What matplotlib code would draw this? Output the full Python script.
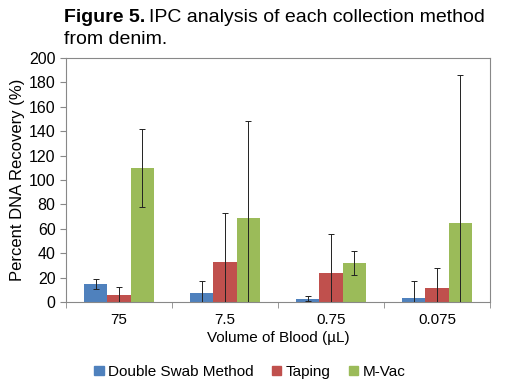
""" IPC analysis bar chart - recovery by collection method """

import numpy as np
import matplotlib.pyplot as plt
from matplotlib.patches import Patch

plt.rcParams['font.family'] = ['Liberation Sans', 'DejaVu Sans']

volumes = ["75", "7.5", "0.75", "0.075"]
methods = ["Double Swab Method", "Taping", "M-Vac"]
colors = ["#4F81BD", "#C0504D", "#9BBB59"]

swab = [15, 7, 2.7, 3.6]
swab_err = [4, 10, 2, 14]
taping = [5.5, 33, 24, 11.6]
taping_err = [6.5, 40, 32, 16]
mvac = [110, 68.5, 32, 65]
mvac_err = [32, 80, 10, 121]

values = [swab, taping, mvac]
errors = [swab_err, taping_err, mvac_err]

fig = plt.figure(figsize=(5.12, 3.84), dpi=100)
ax = fig.add_axes([66/512, 1 - 302/384, 424/512, 244/384])

x = np.arange(len(volumes))
w = 0.22
for i, (vals, errs) in enumerate(zip(values, errors)):
    ax.bar(x + (i - 1) * w, vals, w, color=colors[i], zorder=2)
    ax.errorbar(x + (i - 1) * w, vals, yerr=errs, fmt='none', ecolor='#222222',
                elinewidth=0.7, capsize=2, capthick=0.7, zorder=3)

ax.set_xlim(-0.5, len(volumes) - 0.5)
ax.set_ylim(0, 200)
ax.set_yticks(range(0, 201, 20))
ax.set_xticks(x)
ax.set_xticklabels(volumes)
ax.set_xticks(np.arange(-0.5, len(volumes), 1), minor=True)
ax.tick_params(axis='x', which='major', length=0, labelsize=11, pad=8)
ax.tick_params(axis='x', which='minor', length=4, color='#888888', direction='out')
ax.tick_params(axis='y', length=4, color='#888888', labelsize=11.5)
for s in ax.spines.values():
    s.set_color('#888888')
    s.set_linewidth(0.8)

ax.set_xlabel("Volume of Blood (µL)", fontsize=11, labelpad=3)
ax.set_ylabel("Percent DNA Recovery (%)", fontsize=12, labelpad=3)

# title: bold "Figure 5." followed by plain text
t_bold = fig.text(64/512, 1 - 18/384, "Figure 5.", fontsize=14, fontweight='bold',
                  va='center')
fig.canvas.draw()
bb = t_bold.get_window_extent()
fig.text(bb.x1 / fig.bbox.width + 4/512, 1 - 18/384,
         "IPC analysis of each collection method", fontsize=14, va='center')
fig.text(64/512, 1 - 40/384, "from denim.", fontsize=14, va='center')

handles = [Patch(color=c, label=m) for c, m in zip(colors, methods)]
fig.legend(handles=handles, loc='center', bbox_to_anchor=(250/512, 1 - 372/384),
           ncol=3, frameon=False, fontsize=11, handlelength=0.6, handleheight=0.6,
           handletextpad=0.3, columnspacing=1.2)

fig.savefig("out.png", dpi=100)
